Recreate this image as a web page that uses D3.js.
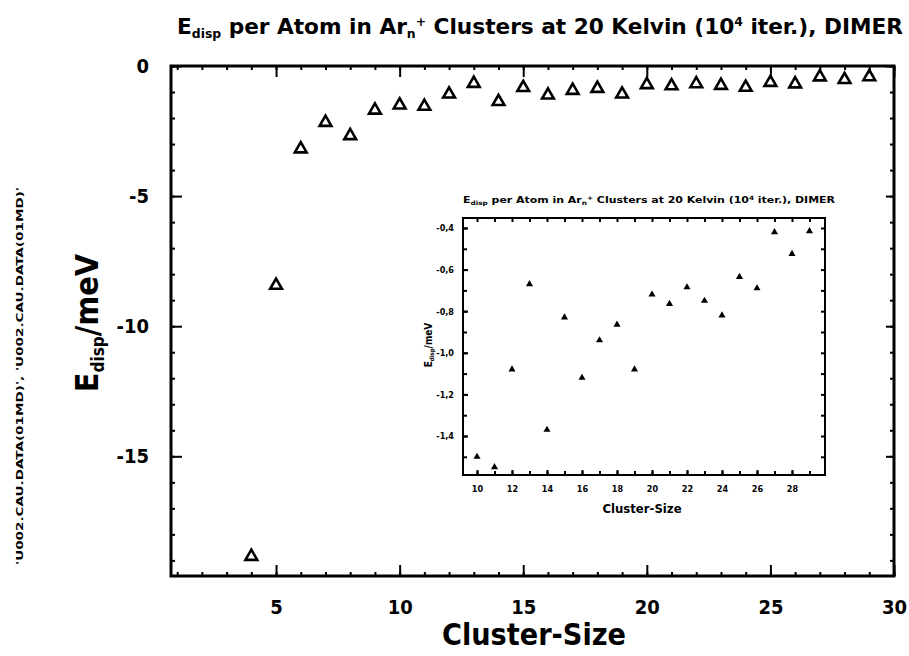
<!DOCTYPE html>
<html>
<head>
<meta charset="utf-8">
<script src="https://cdn.jsdelivr.net/npm/d3@7"></script>
<style>
  body { margin: 0; background: #fff; }
  svg { display: block; }
  text { font-family: "DejaVu Sans Condensed", "DejaVu Sans", sans-serif; font-weight: bold; fill: #000; }
</style>
</head>
<body>
<svg id="chart" width="909" height="656"></svg>
<script>
// data
var clusterSize = [4, 5, 6, 7, 8, 9, 10, 11, 12, 13, 14, 15, 16, 17, 18, 19, 20, 21, 22, 23, 24, 25, 26, 27, 28, 29];
var eDisp = [-18.85, -8.43, -3.19, -2.17, -2.68, -1.70, -1.50, -1.55, -1.08, -0.67, -1.37, -0.83,
             -1.12, -0.94, -0.865, -1.08, -0.72, -0.765, -0.685, -0.75, -0.82, -0.635, -0.69, -0.42, -0.525, -0.415];
var xTicks = [5, 10, 15, 20, 25, 30];
var yTicks = [0, -5, -10, -15];
var insetXTicks = [10, 12, 14, 16, 18, 20, 22, 24, 26, 28];
var insetYTicks = [-0.4, -0.6, -0.8, -1.0, -1.2, -1.4];
var insetMin = 10;

var points = clusterSize.map(function(n, i) { return {n: n, e: eDisp[i]}; });
var insetPoints = points.filter(function(d) { return d.n >= insetMin; });

var svg = d3.select("svg#chart");

// ---- main plot
var m = {left: 171, right: 894, top: 66, bottom: 576};
var x = d3.scaleLinear().domain([0.75, 30]).range([m.left, m.right]);
var y = d3.scaleLinear().domain([-19.6, 0]).range([m.bottom, m.top]);
var minorX = d3.range(1, 31), minorY = d3.range(0, -20, -1);

function styleAxis(g, size) {
  g.select(".domain").remove();
  g.selectAll("line").attr("stroke", "#000").attr("stroke-width", 2);
  g.selectAll("text").attr("font-size", size);
}

// minor ticks
svg.append("g").attr("transform", "translate(0," + m.bottom + ")")
   .call(d3.axisBottom(x).tickValues(minorX).tickSize(-4).tickFormat(""))
   .call(styleAxis, 0);
svg.append("g").attr("transform", "translate(0," + m.top + ")")
   .call(d3.axisTop(x).tickValues(minorX).tickSize(-4).tickFormat(""))
   .call(styleAxis, 0);
svg.append("g").attr("transform", "translate(" + m.left + ",0)")
   .call(d3.axisLeft(y).tickValues(minorY).tickSize(-4).tickFormat(""))
   .call(styleAxis, 0);
svg.append("g").attr("transform", "translate(" + m.right + ",0)")
   .call(d3.axisRight(y).tickValues(minorY).tickSize(-4).tickFormat(""))
   .call(styleAxis, 0);

// major ticks + labels
svg.append("g").attr("transform", "translate(0," + m.bottom + ")")
   .call(d3.axisBottom(x).tickValues(xTicks).tickSize(-11).tickPadding(24).tickFormat(String))
   .call(styleAxis, 20);
svg.append("g").attr("transform", "translate(0," + m.top + ")")
   .call(d3.axisTop(x).tickValues(xTicks).tickSize(-11).tickFormat(""))
   .call(styleAxis, 0);
svg.append("g").attr("transform", "translate(" + m.left + ",0)")
   .call(d3.axisLeft(y).tickValues(yTicks).tickSize(-11).tickPadding(22).tickFormat(String))
   .call(styleAxis, 20);
svg.append("g").attr("transform", "translate(" + m.right + ",0)")
   .call(d3.axisRight(y).tickValues(yTicks).tickSize(-8).tickFormat(""))
   .call(styleAxis, 0);

svg.append("rect")
   .attr("x", m.left).attr("y", m.top)
   .attr("width", m.right - m.left).attr("height", m.bottom - m.top)
   .attr("fill", "none").attr("stroke", "#000").attr("stroke-width", 3);

svg.selectAll("path.mainpt")
   .data(points)
   .enter().append("path")
   .attr("class", "mainpt")
   .attr("transform", function(d) { return "translate(" + x(d.n) + "," + y(d.e) + ")"; })
   .attr("d", d3.symbol(d3.symbolTriangle, 60))
   .attr("fill", "none").attr("stroke", "#000").attr("stroke-width", 2.6);

// title
var title = svg.append("text")
   .attr("x", 177).attr("y", 34)
   .attr("font-size", 21)
   .attr("textLength", 726).attr("lengthAdjust", "spacingAndGlyphs");
title.append("tspan").text("E");
title.append("tspan").attr("font-size", 12).attr("dy", 4).text("disp");
title.append("tspan").attr("dy", -4).text(" per Atom in Ar");
title.append("tspan").attr("font-size", 12).attr("dy", 4).text("n");
title.append("tspan").attr("font-size", 12).attr("dy", -12).text("+");
title.append("tspan").attr("dy", 8).text(" Clusters at 20 Kelvin (10");
title.append("tspan").attr("font-size", 12).attr("dy", -8).text("4");
title.append("tspan").attr("dy", 8).text(" iter.), DIMER");

svg.append("text")
   .attr("x", 534).attr("y", 645)
   .attr("text-anchor", "middle").attr("font-size", 30)
   .attr("textLength", 184).attr("lengthAdjust", "spacingAndGlyphs")
   .text("Cluster-Size");

var ylab = svg.append("text")
   .attr("transform", "translate(98,323) rotate(-90)")
   .attr("text-anchor", "middle").attr("font-size", 32);
ylab.append("tspan").text("E");
ylab.append("tspan").attr("font-size", 17).attr("dy", 6).text("disp");
ylab.append("tspan").attr("dy", -6).text("/meV");

svg.append("text")
   .attr("transform", "translate(23,376) rotate(-90)")
   .attr("text-anchor", "middle").attr("font-size", 9)
   .attr("font-family", "DejaVu Sans Mono")
   .attr("textLength", 378).attr("lengthAdjust", "spacingAndGlyphs")
   .text("'U002.CAU.DATA(01MD)', 'U002.CAU.DATA(01MD)'");

// ---- inset
var ins = {left: 463, right: 825, top: 218, bottom: 475};
var xi = d3.scaleLinear().domain([9.2, 29.886]).range([ins.left, ins.right]);
var yi = d3.scaleLinear().domain([-1.5875, -0.352]).range([ins.bottom, ins.top]);
var insetMinorX = d3.range(10, 30), insetMinorY = d3.range(-1.5, -0.35, 0.1);

svg.append("g").attr("transform", "translate(0," + ins.bottom + ")")
   .call(d3.axisBottom(xi).tickValues(insetMinorX).tickSize(-4).tickFormat(""))
   .call(styleAxis, 0);
svg.append("g").attr("transform", "translate(0," + ins.top + ")")
   .call(d3.axisTop(xi).tickValues(insetMinorX).tickSize(-4).tickFormat(""))
   .call(styleAxis, 0);
svg.append("g").attr("transform", "translate(" + ins.left + ",0)")
   .call(d3.axisLeft(yi).tickValues(insetMinorY).tickSize(-4).tickFormat(""))
   .call(styleAxis, 0);
svg.append("g").attr("transform", "translate(" + ins.right + ",0)")
   .call(d3.axisRight(yi).tickValues(insetMinorY).tickSize(-4).tickFormat(""))
   .call(styleAxis, 0);

svg.append("g").attr("transform", "translate(0," + ins.bottom + ")")
   .call(d3.axisBottom(xi).tickValues(insetXTicks).tickSize(-5).tickPadding(11).tickFormat(String))
   .call(styleAxis, 9);
svg.append("g").attr("transform", "translate(" + ins.left + ",0)")
   .call(d3.axisLeft(yi).tickValues(insetYTicks).tickSize(-5).tickPadding(9)
         .tickFormat(function(d) { return d.toFixed(1).replace(".", ","); }))
   .call(styleAxis, 9);

svg.append("rect")
   .attr("x", ins.left).attr("y", ins.top)
   .attr("width", ins.right - ins.left).attr("height", ins.bottom - ins.top)
   .attr("fill", "none").attr("stroke", "#000").attr("stroke-width", 2);

svg.selectAll("path.insetpt")
   .data(insetPoints)
   .enter().append("path")
   .attr("class", "insetpt")
   .attr("transform", function(d) { return "translate(" + xi(d.n) + "," + yi(d.e) + ")"; })
   .attr("d", d3.symbol(d3.symbolTriangle, 22))
   .attr("fill", "#000");

var ititle = svg.append("text")
   .attr("x", 463).attr("y", 203)
   .attr("font-size", 9)
   .attr("textLength", 372).attr("lengthAdjust", "spacingAndGlyphs");
ititle.append("tspan").text("E");
ititle.append("tspan").attr("font-size", 6).attr("dy", 2).text("disp");
ititle.append("tspan").attr("dy", -2).text(" per Atom in Ar");
ititle.append("tspan").attr("font-size", 6).attr("dy", 2).text("n");
ititle.append("tspan").attr("font-size", 6).attr("dy", -5).text("+");
ititle.append("tspan").attr("dy", 3).text(" Clusters at 20 Kelvin (10");
ititle.append("tspan").attr("font-size", 6).attr("dy", -3).text("4");
ititle.append("tspan").attr("dy", 3).text(" iter.), DIMER");

svg.append("text")
   .attr("x", 642).attr("y", 513)
   .attr("text-anchor", "middle").attr("font-size", 13)
   .text("Cluster-Size");

var iylab = svg.append("text")
   .attr("transform", "translate(432,345) rotate(-90)")
   .attr("text-anchor", "middle").attr("font-size", 10);
iylab.append("tspan").text("E");
iylab.append("tspan").attr("font-size", 6).attr("dy", 2).text("disp");
iylab.append("tspan").attr("dy", -2).text("/meV");
</script>
</body>
</html>
